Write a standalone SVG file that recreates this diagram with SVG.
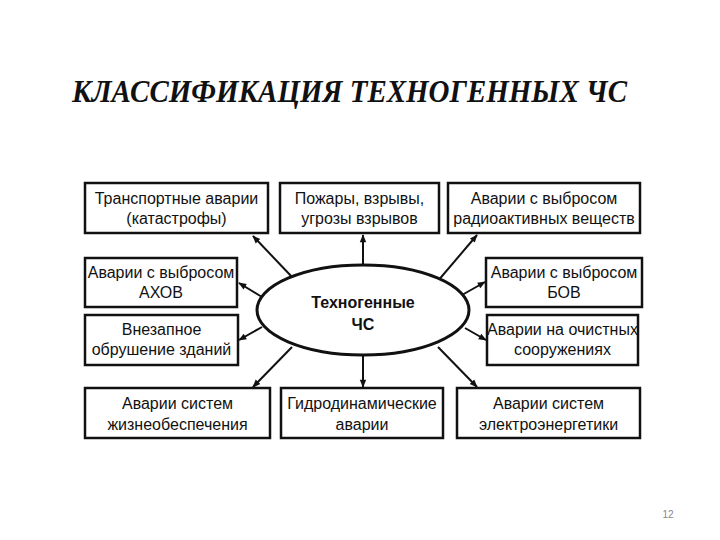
<svg xmlns="http://www.w3.org/2000/svg" width="720" height="540" viewBox="0 0 720 540">
<defs>
<style>
.box{fill:#fff;stroke:#111;stroke-width:2.5}
.t{font-family:"Liberation Sans",Arial,sans-serif;font-size:16px;fill:#111;text-anchor:middle}
.c{stroke:#111;stroke-width:2;fill:none;marker-end:url(#ah)}
</style>
<marker id="ah" viewBox="0 0 10 10" refX="9" refY="5" markerWidth="9" markerHeight="8" orient="auto" markerUnits="userSpaceOnUse">
<path d="M0,1 L10,5 L0,9 Z" fill="#111"/>
</marker>
</defs>
<rect width="720" height="540" fill="#fff"/>
<text x="72" y="102" font-family="'Liberation Serif',serif" font-style="italic" font-weight="bold" font-size="32" textLength="555" lengthAdjust="spacingAndGlyphs" fill="#111">КЛАССИФИКАЦИЯ ТЕХНОГЕННЫХ ЧС</text>
<g id="connectors">
<line class="c" x1="293" y1="278" x2="253" y2="236"/>
<line class="c" x1="363" y1="265" x2="363" y2="235"/>
<line class="c" x1="437" y1="282" x2="477" y2="235"/>
<line class="c" x1="262" y1="297" x2="239" y2="283"/>
<line class="c" x1="462" y1="295" x2="485" y2="282"/>
<line class="c" x1="262" y1="327" x2="239" y2="340"/>
<line class="c" x1="465" y1="328" x2="486" y2="340"/>
<line class="c" x1="292" y1="347" x2="253" y2="387"/>
<line class="c" x1="363" y1="356" x2="363" y2="387"/>
<line class="c" x1="438" y1="347" x2="477" y2="387"/>
</g>
<g id="center">
<ellipse cx="363" cy="310" rx="106" ry="45" fill="#fff" stroke="#111" stroke-width="3"/>
<text class="t" x="363" y="308" font-weight="bold">Техногенные</text>
<text class="t" x="363" y="330" font-weight="bold">ЧС</text>
</g>
<g id="n1"><rect class="box" x="85" y="183" width="183" height="50"/>
<text class="t" x="176.5" y="204">Транспортные аварии</text><text class="t" x="176.5" y="224">(катастрофы)</text></g>
<g id="n2"><rect class="box" x="280" y="183" width="159" height="50"/>
<text class="t" x="359.5" y="204">Пожары, взрывы,</text><text class="t" x="359.5" y="224">угрозы взрывов</text></g>
<g id="n3"><rect class="box" x="448" y="183" width="192" height="50"/>
<text class="t" x="544" y="204">Аварии с выбросом</text><text class="t" x="544" y="224">радиоактивных веществ</text></g>
<g id="n4"><rect class="box" x="85" y="258" width="152" height="49"/>
<text class="t" x="161" y="278">Аварии с выбросом</text><text class="t" x="161" y="298">АХОВ</text></g>
<g id="n5"><rect class="box" x="486" y="258" width="156" height="49"/>
<text class="t" x="564" y="278">Аварии с выбросом</text><text class="t" x="564" y="298">БОВ</text></g>
<g id="n6"><rect class="box" x="85" y="315" width="153" height="50"/>
<text class="t" x="161.5" y="335">Внезапное</text><text class="t" x="161.5" y="355">обрушение зданий</text></g>
<g id="n7"><rect class="box" x="487" y="315" width="151" height="50"/>
<text class="t" x="562.5" y="335">Аварии на очистных</text><text class="t" x="562.5" y="355">сооружениях</text></g>
<g id="n8"><rect class="box" x="85" y="388" width="185" height="50"/>
<text class="t" x="177.5" y="409">Аварии систем</text><text class="t" x="177.5" y="430">жизнеобеспечения</text></g>
<g id="n9"><rect class="box" x="281" y="388" width="162" height="50"/>
<text class="t" x="362" y="409">Гидродинамические</text><text class="t" x="362" y="430">аварии</text></g>
<g id="n10"><rect class="box" x="457" y="388" width="183" height="50"/>
<text class="t" x="548.5" y="409">Аварии систем</text><text class="t" x="548.5" y="430">электроэнергетики</text></g>
<text x="668" y="518" font-family="'Liberation Sans',Arial,sans-serif" font-size="10" fill="#888" text-anchor="middle">12</text>
</svg>
